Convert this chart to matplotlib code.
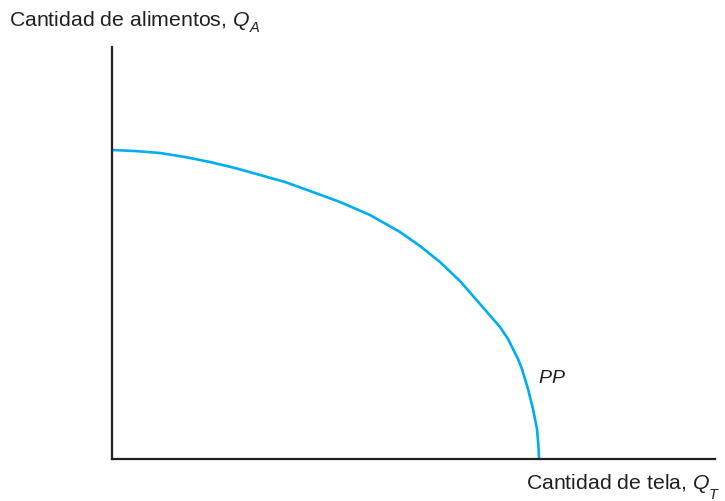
import matplotlib
matplotlib.use('Agg')
import matplotlib.pyplot as plt

plt.rcParams['font.family'] = 'Liberation Sans'
plt.rcParams['mathtext.fontset'] = 'custom'
plt.rcParams['mathtext.rm'] = 'Liberation Sans'
plt.rcParams['mathtext.it'] = 'Liberation Sans:italic'

# production possibility frontier
tela = [0, 23, 48, 73, 98, 123, 148, 173, 198, 228, 258, 288, 308, 328, 348,
        368, 388, 396, 401, 406, 410, 416, 421, 425, 426.5, 427]
alimentos = [309, 308, 306, 302, 297, 291, 284, 277, 268, 257, 244, 227, 213, 197, 178,
             155, 132, 120, 110, 100, 90, 70, 50, 30, 12, 0]

ejex, sub_x = 'Cantidad de tela, $Q$', 'T'
ejey, sub_y = 'Cantidad de alimentos, $Q$', 'A'
curva = '$PP$'

W, H = 725, 502
fig = plt.figure(figsize=(W / 100, H / 100), dpi=100)
ax = fig.add_axes([112 / W, (H - 460) / H, (715 - 112) / W, (460 - 48) / H])
ax.set_xlim(0, 603)
ax.set_ylim(0, 412)

ink = '#231f20'
for s in ['top', 'right']:
    ax.spines[s].set_visible(False)
for s in ['left', 'bottom']:
    ax.spines[s].set_color(ink)
    ax.spines[s].set_linewidth(1.6)
ax.set_xticks([])
ax.set_yticks([])

ax.plot(tela, alimentos, color='#00aeef', lw=1.9, solid_capstyle='butt',
        solid_joinstyle='round', clip_on=False)

ax.text(426, 77, curva, fontsize=14, color=ink)

r = fig.canvas.get_renderer()

# y label with a lowered subscript
t = fig.text(9 / W, 1 - 26 / H, ejey, fontsize=15.3, color=ink, va='baseline', ha='left')
x1 = t.get_window_extent(r).x1
fig.text(x1 / W, 1 - 32 / H, sub_y, fontsize=10.5, style='italic', color=ink,
         va='baseline', ha='left')

# x label, right aligned with subscript
s = fig.text(718 / W, 1 - 499 / H, sub_x, fontsize=10.5, style='italic', color=ink,
             va='baseline', ha='right')
x0 = s.get_window_extent(r).x0
fig.text((x0 + 1) / W, 1 - 489 / H, ejex, fontsize=15.3, color=ink, va='baseline', ha='right')

fig.savefig('out.png', dpi=100)
